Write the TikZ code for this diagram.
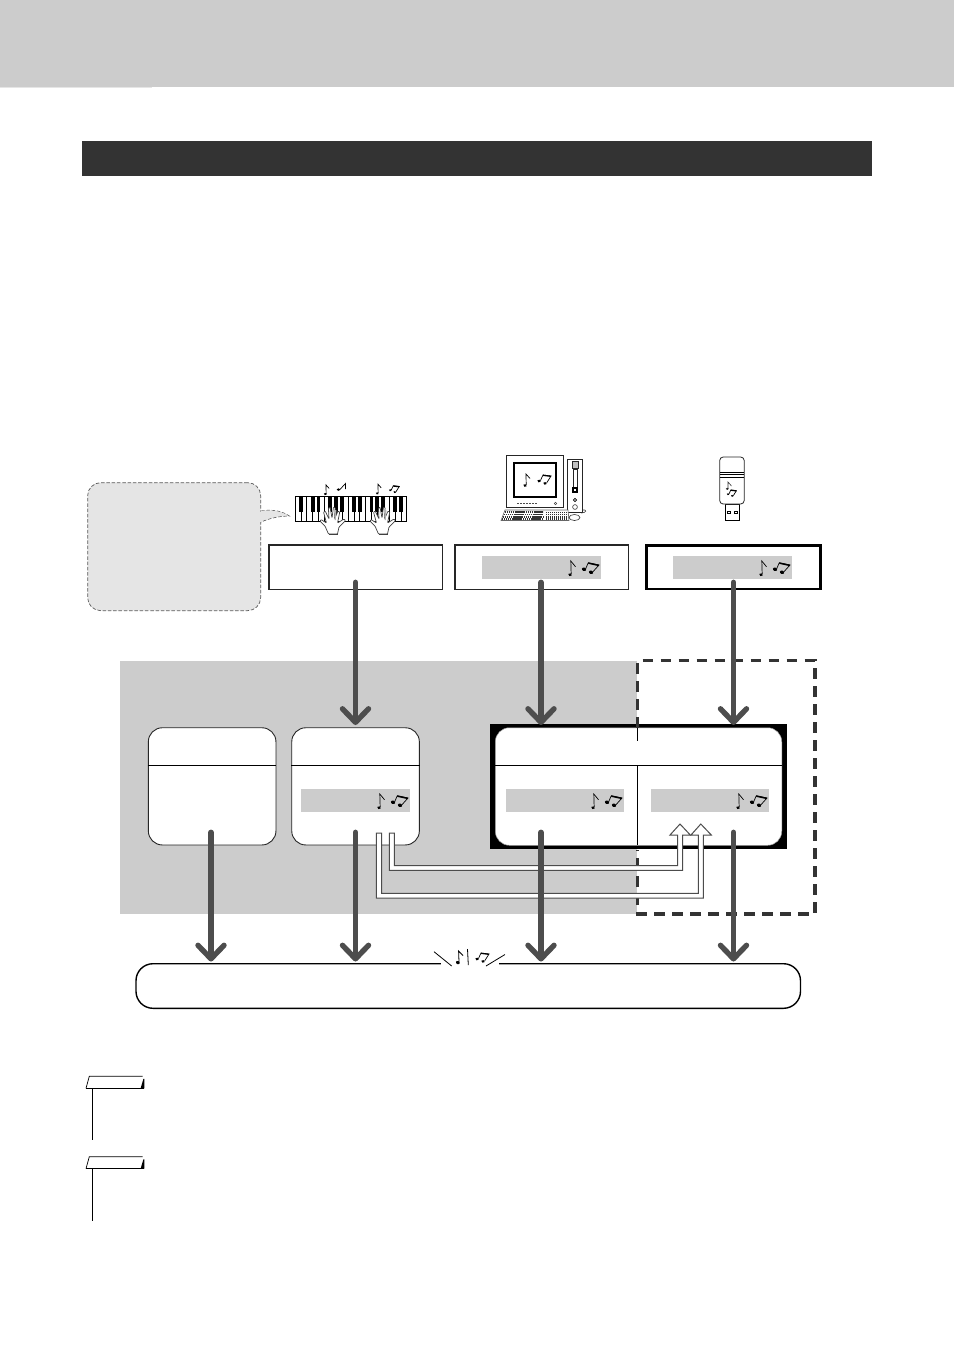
\documentclass[tikz,border=0pt]{standalone}
\usetikzlibrary{arrows.meta,calc}
\definecolor{bandgray}{HTML}{CCCCCC}
\definecolor{bargray}{HTML}{333333}
\definecolor{bubblegray}{HTML}{E5E5E5}
\definecolor{flowgray}{HTML}{4D4D4D}
\tikzset{
  plainbox/.style={draw=black!85,fill=white,line width=1.8pt,inner sep=0pt,anchor=north west,rectangle},
  blackbox/.style={plainbox,draw=black,line width=2.6pt},
  memorybox/.style={draw=black!85,fill=white,line width=0.9pt,inner sep=0pt,anchor=north west,rounded corners=14pt,rectangle},
  labelbar/.style={fill=bandgray,draw=none,inner sep=0pt,anchor=north west,rectangle},
  flow/.style={draw=flowgray,line width=5.8pt,line cap=round,-{Straight Barb[length=13.5pt,width=26pt,line width=5.4pt,round]}},
  thinrule/.style={draw=black,line width=0.9pt},
  tube/.style={draw=black!70,fill=white,line width=1pt,line join=miter},
  pics/twonotes/.style={code={
    \fill[black] (-31,7.2) ellipse[x radius=1.9,y radius=1.5,rotate=-25];
    \draw[black,line width=0.7pt] (-29.8,6.8) -- (-30.2,-6.5) -- (-25.5,-0.8);
    \fill[black] (-17,1.8) ellipse[x radius=2.2,y radius=1.7,rotate=-20];
    \fill[black] (-10,4.8) ellipse[x radius=2.2,y radius=1.7,rotate=-20];
    \draw[black,line width=0.7pt] (-15.4,1.4) -- (-12.7,-4.8) -- (-2,-2.5) -- (-8.2,4.4);
    \draw[black,line width=1.5pt] (-12.7,-4.4) -- (-2.2,-2.1);
  }},
  pics/onenote/.style={code={
    \fill[black] (-1,7) ellipse[x radius=1.8,y radius=1.4,rotate=-25];
    \draw[black,line width=0.7pt] (0.2,6.6) -- (0,-4.5) -- (4,0);
  }},
  pics/beamnote/.style={code={
    \fill[black] (-5,1) ellipse[x radius=1.8,y radius=1.4,rotate=-20];
    \fill[black] (1,3.4) ellipse[x radius=1.8,y radius=1.4,rotate=-20];
    \draw[black,line width=0.7pt] (-3.6,0.6) -- (-1,-5) -- (7,-4) -- (2.6,3);
    \draw[black,line width=1.3pt] (-1,-4.7) -- (7,-3.7);
  }},
  pics/hand/.style={code={
    \draw[draw=black!75,fill=white,line width=0.7pt,rounded corners=0.8pt]
      (-4.5,28) -- (-8,20) -- (-13,15) -- (-12,13.5) -- (-6.5,17) -- (-9.5,6) -- (-7.8,5)
      -- (-4,13) -- (-4.5,2) -- (-3,1) -- (-1,12) -- (0.5,1) -- (2.2,1.5) -- (1.5,13)
      -- (5,5) -- (6.8,6) -- (4.5,17) -- (11,13) -- (12.5,14.5) -- (6,21) -- (4.5,28) -- cycle;
    \draw[black!75,line width=0.5pt] (-4.5,28) -- (4.5,28);
    \fill[black!30] (2,4) -- (3.4,4) -- (2.8,14) -- (1.6,14) -- cycle;
  }}
}
\begin{document}
\begin{tikzpicture}[x=1pt,y=-1pt]
\useasboundingbox (0,0) rectangle (954,1350);
% header
\fill[bubblegray] (0,86) rectangle (152,88);
\node[labelbar,minimum width=954pt,minimum height=87pt] (band) at (0,0) {};
\node[labelbar,fill=bargray,minimum width=790pt,minimum height=35pt] (bar) at (82,141) {};

% speech bubble
\draw[draw=black!65,fill=bubblegray,line width=0.7pt,dash pattern=on 3.5pt off 1.8pt]
  (261,511) .. controls (272,509) and (282,511) .. (289.3,516)
  .. controls (280,516) and (270,518) .. (261,522);
\node[draw=black!65,fill=bubblegray,line width=0.7pt,dash pattern=on 3.5pt off 1.8pt,rounded corners=13pt,
  inner sep=0pt,anchor=north west,minimum width=173pt,minimum height=128pt] (bubble) at (87.3,482.3) {};
\fill[bubblegray] (259,511.5) rectangle (262,521.5);
\fill[bubblegray] (260.5,511) .. controls (272,509.5) and (282,511.5) .. (288,515.6)
  .. controls (280,515.6) and (270,517.5) .. (260.5,521.5) -- cycle;

% keyboard
\draw[fill=white,line width=0.8pt] (295,496.5) rectangle (406.7,521.3);
\foreach \i in {1,...,18}{\draw[line width=0.6pt] ({295+\i*5.88},496.5) -- ({295+\i*5.88},521.3);}
\foreach \i in {1,3,4,6,7,8,10,11,13,14,15,17,18}{\fill[black] ({295+\i*5.88-1.9},496.5) rectangle ({295+\i*5.88+1.9},512);}
\draw[line width=0.9pt] (295,496.5) -- (406.7,496.5);
\pic at (333,506) {hand};
\pic at (383,506) {hand};
\pic[scale=0.8] at (326,488.5) {onenote};
\fill[black] (338.5,489.6) ellipse[x radius=1.9,y radius=1.3];
\draw[black,line width=0.7pt] (340,489.4) -- (345.5,483.5) -- (345.5,489);
\pic[scale=0.8] at (378,487.8) {onenote};
\pic[scale=0.75] at (394,489.5) {beamnote};

% computer
\draw[black!85,fill=white,line width=0.8pt] (506,455) rectangle (563,507.5);
\draw[black,fill=white,line width=1.9pt] (514,463) rectangle (556,497);
\pic at (526,478.5) {onenote};
\pic at (544,480) {beamnote};
\draw[black!70,line width=0.8pt,dash pattern=on 2pt off 1pt] (517,503.5) -- (537,503.5);
\draw[black!70,line width=0.6pt] (555.5,503.5) circle[radius=1.2];
\draw[black!85,fill=white,line width=0.8pt] (567.5,459.5) rectangle (582.5,512);
\draw[black!85,fill=black!25,line width=0.6pt] (572,461) rectangle (578,468);
\draw[black!85,line width=0.6pt] (573,469) rectangle (576.8,487);
\fill[black] (572,487) rectangle (578,493);
\fill[white] (574,489) rectangle (576,491);
\draw[black,line width=0.6pt] (575,500) circle[radius=1.6];
\draw[black!80,line width=0.6pt] (575,507) circle[radius=2.4];
\draw[black!80,line width=0.6pt] (582.5,510) .. controls (587,509) and (587,513) .. (581,513);
\draw[black!60,fill=white,line width=0.6pt] (505,510) -- (568,510) -- (569,520.5) -- (501,520.5) -- cycle;
\foreach \r/\sx in {512.2/505,514.6/504,517/503,519/502}{
  \draw[black!80,line width=1.5pt,dash pattern=on 1.4pt off 0.5pt] (\sx,\r) -- (543,\r);
  \draw[black!80,line width=1.3pt,dash pattern=on 1.4pt off 0.6pt] (546,\r) -- (568,\r);
}
\draw[black!80,fill=white,line width=0.6pt] (574.5,517.5) ellipse[x radius=5.5,y radius=3];

% USB stick
\draw[black,fill=white,line width=0.8pt] (725.5,504) rectangle (739.7,520.5);
\draw[black,line width=0.8pt] (727.5,511) rectangle (730,513);
\draw[black,line width=0.8pt] (734.5,511) rectangle (737,513);
\draw[black!85,fill=white,line width=0.8pt,rounded corners=3.5pt] (719.7,457) rectangle (744.2,504);
\foreach \r in {472.3,474.8,477.3}{\draw[black,line width=1.1pt] (720,\r) -- (744,\r);}
\draw[black!80,line width=0.6pt] (728,488.5) -- (728,482) -- (731.5,486);
\fill[black!85] (727.3,488.8) ellipse[x radius=1.5,y radius=1.1];
\pic[scale=0.7] at (731.5,493.5) {beamnote};

% source boxes
\node[plainbox,minimum width=173.5pt,minimum height=44.5pt] (srcA) at (268,544) {};
\node[plainbox,minimum width=173.8pt,minimum height=44.5pt] (srcB) at (453.7,544) {};
\node[blackbox,minimum width=173.8pt,minimum height=43.8pt] (srcC) at (645.3,544) {};
\node[labelbar,minimum width=119pt,minimum height=23pt] (barB) at (482,556) {};
\node[labelbar,minimum width=119pt,minimum height=23pt] (barC) at (673,556) {};
\pic at (601,567.5) {twonotes};
\pic at (792,567.5) {twonotes};

% panels
\node[labelbar,minimum width=517pt,minimum height=253pt] (panel) at (120,661) {};
\node[rectangle,fill=black,inner sep=0pt,anchor=north west,minimum width=296.8pt,minimum height=125pt] (frame) at (490,724) {};
\node[memorybox,draw=black!40,line width=0.5pt,minimum width=286.4pt,minimum height=117.5pt] (song) at (495.1,727.5) {};
\draw[thinrule,line width=0.8pt] (637.6,728) -- (637.6,740.5);
\draw[thinrule] (song.west |- 0,765.3) -- (song.east |- 0,765.3);
\draw[thinrule,line width=0.8pt] (637.6,765.3) -- (637.6,845);
\draw[bargray,line width=3.4pt,dash pattern=on 10.5pt off 7.5pt]
  (637.7,727.5) -- (637.7,660.4) -- (815,660.4) -- (815,913.8) -- (637.7,913.8) -- (637.7,849.5);
\node[memorybox,minimum width=127.6pt,minimum height=117.2pt] (memL) at (147.9,727.3) {};
\node[memorybox,minimum width=127.6pt,minimum height=117.2pt] (memM) at (291.3,727.3) {};
\draw[thinrule] (memL.west |- 0,765.3) -- (memL.east |- 0,765.3);
\draw[thinrule] (memM.west |- 0,765.3) -- (memM.east |- 0,765.3);
\node[labelbar,minimum width=109pt,minimum height=23pt] (barM) at (301,789) {};
\node[labelbar,minimum width=118pt,minimum height=23pt] (barS) at (506,789) {};
\node[labelbar,minimum width=118pt,minimum height=23pt] (barU) at (651,789) {};
\pic at (410,800.5) {twonotes};
\pic at (624,800.5) {twonotes};
\pic at (769,800.5) {twonotes};

% bottom box
\node[draw=black,fill=white,line width=1.4pt,inner sep=0pt,anchor=north west,rounded corners=17pt,minimum width=664.5pt,minimum height=44.6pt] (out) at (135.3,963) {};
\fill[white] (440.7,961) rectangle (499,966);
\draw[black,line width=0.8pt] (434,951.7) -- (451.7,966);
\draw[black,line width=0.8pt] (467.5,949) -- (468.3,965);
\draw[black,line width=0.8pt] (486,966) -- (505,954.5);
\fill[black] (457.8,962.6) ellipse[x radius=2,y radius=1.6,rotate=-25];
\draw[black,line width=0.8pt] (459,962) -- (458.6,951) -- (463,955.5);
\pic at (482,958) {beamnote};

% hollow arrows
\draw[tube] (376.3,833) -- (376.3,898) -- (703.3,898) -- (703.3,835) -- (711.3,835) -- (700.8,824)
  -- (691,835) -- (698.3,835) -- (698.3,893.3) -- (381.7,893.3) -- (381.7,833) -- cycle;
\draw[tube] (389.3,833) -- (389.3,870.3) -- (682.7,870.3) -- (682.7,835) -- (690.3,835) -- (680,824)
  -- (670,835) -- (677.5,835) -- (677.5,865.7) -- (394.3,865.7) -- (394.3,833) -- cycle;

% arrows in
\coordinate (inA) at (355.5,725);
\coordinate (inB) at (541,725);
\coordinate (inC) at (733.5,725);
\coordinate (startA) at (355.5,582.5);
\coordinate (startB) at (541,582.5);
\coordinate (startC) at (733.5,582.5);
\draw[flow] (startA) -- (inA);
\draw[flow] (startB) -- (inB);
\draw[flow] (startC) -- (inC);
% arrows out
\coordinate (fromL) at (211,832.5);
\coordinate (fromM) at (355.5,832.5);
\coordinate (fromS) at (541,832.5);
\coordinate (fromU) at (733.5,832.5);
\coordinate (toL) at (211,961.5);
\coordinate (toM) at (355.5,961.5);
\coordinate (toS) at (541,961.5);
\coordinate (toU) at (733.5,961.5);
\draw[flow] (fromL) -- (toL);
\draw[flow] (fromM) -- (toM);
\draw[flow] (fromS) -- (toS);
\draw[flow] (fromU) -- (toU);

% note tags
\foreach \t/\e in {1076.3/1140,1156.7/1221}{
  \draw[black,line width=0.7pt] (86,\t+12) -- (89.3,\t) -- (142.5,\t);
  \draw[black,line width=1.1pt] (86,\t+12) -- (144.3,\t+12);
  \fill[black] (140.6,\t+12) -- (143.4,\t+2.6) -- (144.4,\t+2.6) -- (144.4,\t+12) -- cycle;
  \draw[black,line width=0.8pt] (92.4,\t+12) -- (92.4,\e);
}
\end{tikzpicture}
\end{document}
